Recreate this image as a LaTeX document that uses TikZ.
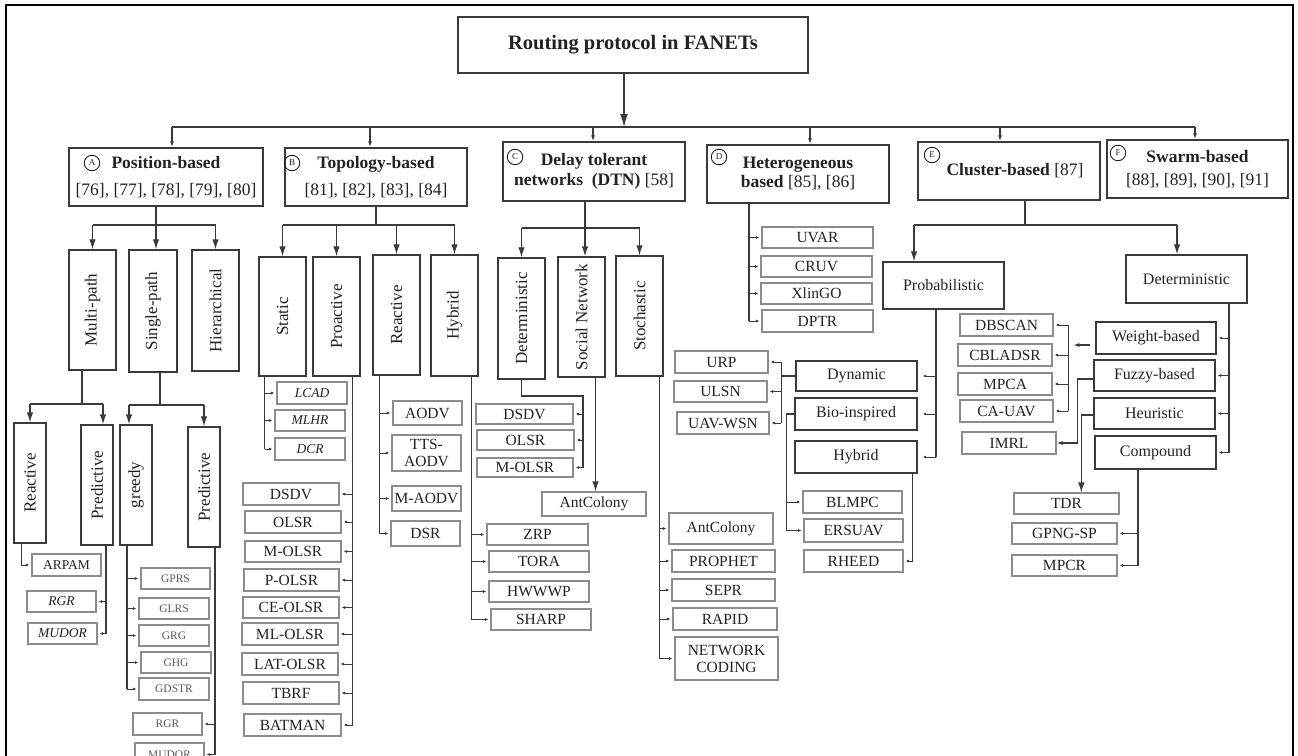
\documentclass[tikz,border=0pt]{standalone}
\usepackage{fontspec}
\setmainfont{Liberation Serif}
\usetikzlibrary{arrows.meta}
\definecolor{ink}{HTML}{222222}
\definecolor{edge}{HTML}{3A3A3A}
\definecolor{leafedge}{HTML}{8C8C8C}

% box from its corner coordinates: name, x1, y1, x2, y2, style, text
\newcommand\bx[7]{\node[#6, minimum width={(#4-#2)*1pt}, minimum height={(#5-#3)*1pt}] (#1) at ({(#2+#4)/2},{(#3+#5)/2}) {#7};}

\tikzset{
  box/.style={draw=edge, line width=1.5pt, inner sep=0pt, text=ink},
  cat/.style={box, font=\fontsize{17.5}{22}\selectfont, align=center},
  vbox/.style={box, line width=1.4pt, font=\fontsize{17}{20}\selectfont},
  mbox/.style={box, line width=1.4pt, font=\fontsize{16}{19}\selectfont},
  leaf/.style={draw=leafedge, line width=1.1pt, inner sep=0pt, text=ink, align=center, font=\fontsize{15.5}{17}\selectfont},
  sleaf/.style={leaf, font=\fontsize{13.5}{15}\selectfont},
  tleaf/.style={leaf, text=ink!75, font=\fontsize{11.5}{13}\selectfont},
  badge/.style={circle, draw=ink, line width=0.9pt, inner sep=0pt, minimum size=15.5pt, text=ink, font=\fontsize{9}{9}\selectfont},
  ln/.style={draw=edge, line width=1.2pt},
  big/.style={ln, -{Latex[length=13pt,width=8pt]}},
  med/.style={ln, -{Latex[length=10pt,width=6.5pt]}},
  sml/.style={ln, -{Latex[length=6pt,width=4pt]}},
  tny/.style={ln, line width=1pt, -{Latex[length=3.5pt,width=3pt]}, shorten >=2pt},
}

\begin{document}
\begin{tikzpicture}[x=1pt,y=-1pt]
\useasboundingbox (0,0) rectangle (1298,755);
\clip (0,0) rectangle (1298,755);
\draw[line width=2pt, black] (6,5) rectangle (1293,780);

% ---------- root and first level ----------
\bx{root}{458}{17}{808}{73}{box, line width=1.6pt, font=\fontsize{20.5}{24}\selectfont\bfseries}{Routing protocol in FANETs}
\coordinate (bus) at (624,127);
\draw[big] ([xshift=-9pt]root.south) -- (bus);
\coordinate (busL) at (172,127);
\coordinate (busR) at (1195,127);
\draw[ln] (busL) -- (busR);

\bx{A}{69}{148}{263}{206}{cat}{\textbf{Position-based}\\[5pt][76], [77], [78], [79], [80]}
\bx{B}{285}{148}{467}{206}{cat}{\textbf{Topology-based}\\[5pt][81], [82], [83], [84]}
\bx{C}{503}{142}{685}{201}{cat}{\textbf{Delay tolerant}\\[-2pt]\textbf{networks\enspace(DTN)} [58]}
\bx{D}{707}{145}{889}{203}{cat}{\textbf{Heterogeneous}\\[-3pt]\textbf{based} [85], [86]}
\bx{E}{918}{142}{1100}{200}{cat}{\hspace*{12pt}\textbf{Cluster-based} [87]}
\bx{F}{1107}{140}{1288}{198}{cat}{\textbf{Swarm-based}\\[1pt][88], [89], [90], [91]}

\node[badge] (bA) at (92,163) {A};
\node[badge] (bB) at (292,163) {B};
\node[badge] (bC) at (515,157) {C};
\node[badge] (bD) at (719,157) {D};
\node[badge] (bE) at (932,155) {E};
\node[badge] (bF) at (1118,153) {F};

\foreach \nm/\xx in {A/172,B/370,C/593,D/810,E/1000,F/1195}{
  \coordinate (d\nm) at (\xx,127);
  \draw[sml] (d\nm) -- (d\nm |- \nm.north);
}

% ---------- A: position-based ----------
\bx{MP}{69}{250}{116}{370}{vbox}{\rotatebox{90}{Multi-path}}
\bx{SP}{129}{250}{177}{372}{vbox}{\rotatebox{90}{Single-path}}
\bx{HI}{192}{250}{239}{371}{vbox}{\rotatebox{90}{Hierarchical}}
\coordinate (jA) at (156,225);
\draw[ln] (A.south -| jA) -- (jA);
\draw[ln] (MP.north |- jA) -- (HI.north |- jA);
\draw[med] (MP.north |- jA) -- (MP.north);
\draw[med] (jA) -- (jA |- SP.north);
\draw[med] (HI.north |- jA) -- (HI.north);

\bx{RE1}{14}{423}{46}{543}{vbox}{\rotatebox{90}{Reactive}}
\bx{PR1}{81}{425}{113}{545}{vbox}{\rotatebox{90}{Predictive}}
\bx{GR}{120}{425}{152}{545}{vbox}{\rotatebox{90}{greedy}}
\bx{PR2}{188}{427}{220}{547}{vbox}{\rotatebox{90}{Predictive}}

\coordinate (jMP) at (82,404);
\coordinate (tPR1) at ([xshift=6pt]PR1.north);
\draw[ln] (MP.south -| jMP) -- (jMP);
\draw[ln] (RE1.north |- jMP) -- (tPR1 |- jMP);
\draw[med] (RE1.north |- jMP) -- (RE1.north);
\draw[med] (tPR1 |- jMP) -- (tPR1);

\coordinate (jSP) at (160,405);
\coordinate (tGR) at ([xshift=-7pt]GR.north);
\draw[ln] (SP.south -| jSP) -- (jSP);
\draw[ln] (tGR |- jSP) -- (PR2.north |- jSP);
\draw[med] (tGR |- jSP) -- (tGR);
\draw[med] (PR2.north |- jSP) -- (PR2.north);

\bx{ARPAM}{32}{554}{101}{576}{sleaf}{ARPAM}
\bx{RGRa}{27}{591}{96}{612}{sleaf}{\itshape RGR}
\bx{MUDa}{28}{623}{97}{644}{sleaf}{\itshape MUDOR}
\draw[tny] ([xshift=-9pt]RE1.south) |- (ARPAM.west);
\coordinate (vPR1) at ([xshift=9pt]PR1.south);
\draw[ln] (vPR1) -- (vPR1 |- MUDa.east);
\foreach \nm in {RGRa,MUDa} \draw[tny] (vPR1 |- \nm.east) -- (\nm.east);

\bx{GPRS}{141}{568}{210}{589}{tleaf}{GPRS}
\bx{GLRS}{139}{598}{209}{619}{tleaf}{GLRS}
\bx{GRG}{139}{625}{209}{646}{tleaf}{GRG}
\bx{GHG}{141}{652}{211}{673}{tleaf}{GHG}
\bx{GDSTR}{139}{678}{209}{700}{tleaf}{GDSTR}
\coordinate (vGR) at ([xshift=-9pt]GR.south);
\draw[ln] (vGR) -- (vGR |- GDSTR.west);
\foreach \nm in {GPRS,GLRS,GRG,GHG,GDSTR} \draw[tny] (vGR |- \nm.west) -- (\nm.west);

\bx{RGRb}{133}{713}{202}{735}{tleaf}{RGR}
\bx{MUDb}{135}{743}{204}{766}{tleaf}{MUDOR}
\coordinate (vPR2) at ([xshift=11pt]PR2.south);
\draw[ln] (vPR2) -- (vPR2 |- MUDb.east);
\foreach \nm in {RGRb,MUDb} \draw[tny] (vPR2 |- \nm.east) -- (\nm.east);

% ---------- B: topology-based ----------
\bx{ST}{259}{257}{306}{376}{vbox}{\rotatebox{90}{Static}}
\bx{PA}{313}{257}{360}{376}{vbox}{\rotatebox{90}{Proactive}}
\bx{RB}{373}{255}{420}{375}{vbox}{\rotatebox{90}{Reactive}}
\bx{HB}{431}{255}{478}{376}{vbox}{\rotatebox{90}{Hybrid}}
\coordinate (jB) at (376,225);
\draw[ln] (B.south -| jB) -- (jB);
\draw[ln] (ST.north |- jB) -- (HB.north |- jB);
\foreach \nm in {ST,PA,RB,HB} \draw[med] (\nm.north |- jB) -- (\nm.north);

\bx{LCAD}{277}{382}{347}{404}{sleaf}{\itshape LCAD}
\bx{MLHR}{275}{410}{345}{431}{sleaf}{\itshape MLHR}
\bx{DCR}{275}{438}{345}{460}{sleaf}{\itshape DCR}
\coordinate (vST) at ([xshift=-18pt]ST.south);
\draw[ln] (vST) -- (vST |- DCR.west);
\foreach \nm in {LCAD,MLHR,DCR} \draw[tny] (vST |- \nm.west) -- (\nm.west);

\bx{DSDVb}{243}{483}{339}{505}{leaf}{DSDV}
\bx{OLSRb}{245}{511}{341}{533}{leaf}{OLSR}
\bx{MOLSRb}{245}{541}{341}{562}{leaf}{M-OLSR}
\bx{POLSR}{244}{569}{339}{591}{leaf}{P-OLSR}
\bx{CEOLSR}{243}{597}{339}{618}{leaf}{CE-OLSR}
\bx{MLOLSR}{242}{623}{338}{645}{leaf}{ML-OLSR}
\bx{LATOLSR}{242}{653}{338}{675}{leaf}{LAT-OLSR}
\bx{TBRF}{243}{682}{339}{704}{leaf}{TBRF}
\bx{BATMAN}{244}{714}{341}{736}{leaf}{BATMAN}
\coordinate (vPA) at ([xshift=16pt]PA.south);
\draw[ln] (vPA) -- (vPA |- BATMAN.east);
\foreach \nm in {DSDVb,OLSRb,MOLSRb,POLSR,CEOLSR,MLOLSR,LATOLSR,TBRF,BATMAN}
  \draw[tny] (vPA |- \nm.east) -- (\nm.east);

\bx{AODV}{393}{401}{462}{425}{leaf}{AODV}
\bx{TTS}{392}{435}{461}{471}{leaf}{TTS-\\AODV}
\bx{MAODV}{392}{486}{461}{511}{leaf}{M-AODV}
\bx{DSR}{391}{521}{460}{546}{leaf}{DSR}
\coordinate (vRB) at ([xshift=-17pt]RB.south);
\draw[ln] (vRB) -- (vRB |- DSR.west);
\foreach \nm in {AODV,TTS,MAODV,DSR} \draw[tny] (vRB |- \nm.west) -- (\nm.west);

\bx{ZRP}{487}{524}{588}{545}{leaf}{ZRP}
\bx{TORA}{489}{551}{589}{572}{leaf}{TORA}
\bx{HWWWP}{489}{581}{589}{602}{leaf}{HWWWP}
\bx{SHARP}{491}{609}{591}{630}{leaf}{SHARP}
\coordinate (vHB) at ([xshift=17pt]HB.south);
\draw[ln] (vHB) -- (vHB |- SHARP.west);
\foreach \nm in {ZRP,TORA,HWWWP,SHARP} \draw[tny] (vHB |- \nm.west) -- (\nm.west);

% ---------- C: delay tolerant networks ----------
\bx{DE}{498}{258}{545}{379}{vbox}{\rotatebox{90}{Deterministic}}
\bx{SN}{558}{257}{605}{377}{vbox}{\rotatebox{90}{Social Network}}
\bx{SC}{616}{256}{663}{376}{vbox}{\rotatebox{90}{Stochastic}}
\coordinate (jC) at (585,228);
\draw[ln] (C.south -| jC) -- (jC);
\draw[ln] (DE.north |- jC) -- (SC.north |- jC);
\draw[med] (DE.north |- jC) -- (DE.north);
\draw[med] (jC) -- (jC |- SN.north);
\draw[med] (SC.north |- jC) -- (SC.north);

\bx{DSDVc}{476}{404}{573}{424}{leaf}{DSDV}
\bx{OLSRc}{477}{430}{574}{450}{leaf}{OLSR}
\bx{MOLSRc}{477}{458}{573}{477}{leaf}{M-OLSR}
\coordinate (kDE) at (583,396);
\draw[ln] (DE.south) |- (kDE) -- (kDE |- MOLSRc.east);
\foreach \nm in {DSDVc,OLSRc,MOLSRc} \draw[tny] (kDE |- \nm.east) -- (\nm.east);

\bx{ANTa}{542}{492}{646}{516}{leaf}{AntColony}
\coordinate (vSN) at ([xshift=14pt]SN.south);
\draw[med] (vSN) -- (vSN |- ANTa.north);

\bx{ANTb}{669}{513}{773}{544}{leaf}{AntColony}
\bx{PROPHET}{672}{550}{775}{572}{leaf}{PROPHET}
\bx{SEPR}{672}{579}{775}{601}{leaf}{SEPR}
\bx{RAPID}{673}{608}{777}{630}{leaf}{RAPID}
\bx{NC}{675}{637}{778}{680}{leaf}{NETWORK\\CODING}
\coordinate (vSC) at ([xshift=20pt]SC.south);
\draw[ln] (vSC) -- (vSC |- NC.west);
\foreach \nm in {ANTb,PROPHET,SEPR,RAPID} \draw[tny] (vSC |- \nm.west) -- (\nm.west);
\draw[tny] (vSC |- NC.west) -- (NC.west);

% ---------- D: heterogeneous ----------
\bx{UVAR}{762}{227}{873}{248}{leaf}{UVAR}
\bx{CRUV}{761}{256}{872}{277}{leaf}{CRUV}
\bx{XlinGO}{761}{283}{872}{304}{leaf}{XlinGO}
\bx{DPTR}{762}{310}{873}{332}{leaf}{DPTR}
\coordinate (vD) at ([xshift=-49pt]D.south);
\draw[ln] (vD) -- (vD |- DPTR.west);
\foreach \nm in {UVAR,CRUV,XlinGO,DPTR} \draw[tny] (vD |- \nm.west) -- (\nm.west);

% ---------- E: cluster-based ----------
\bx{PB}{883}{262}{1004}{309}{mbox}{Probabilistic}
\bx{DT}{1126}{255}{1247}{303}{mbox}{Deterministic}
\coordinate (jE) at (1025,225);
\coordinate (tPB) at ([xshift=-29.5pt]PB.north);
\coordinate (tDT) at ([xshift=-9.5pt]DT.north);
\draw[ln] (E.south -| jE) -- (jE);
\draw[ln] (tPB |- jE) -- (tDT |- jE);
\draw[med] (tPB |- jE) -- (tPB);
\draw[med] (tDT |- jE) -- (tDT);

\bx{DY}{796}{361}{917}{391}{mbox}{Dynamic}
\bx{BI}{795}{398}{917}{430}{mbox}{Bio-inspired}
\bx{HY}{795}{441}{917}{473}{mbox}{Hybrid}
\coordinate (vPB) at ([xshift=-7.5pt]PB.south);
\draw[ln] (vPB) -- (vPB |- HY.east);
\foreach \nm in {DY,BI,HY} \draw[tny, shorten >=5pt] (vPB |- \nm.east) -- (\nm.east);

\bx{URP}{675}{351}{768}{373}{leaf}{URP}
\bx{ULSN}{674}{381}{767}{402}{leaf}{ULSN}
\bx{UAVWSN}{677}{412}{769}{434}{leaf}{UAV-WSN}
\coordinate (kDY) at ([xshift=-14pt]DY.west);
\draw[ln] (DY.west) -- (kDY);
\draw[ln] (kDY |- URP.east) -- (kDY |- UAVWSN.east);
\foreach \nm in {URP,ULSN,UAVWSN} \draw[tny] (kDY |- \nm.east) -- (\nm.east);

\bx{BLMPC}{803}{491}{902}{513}{leaf}{BLMPC}
\bx{ERSUAV}{804}{519}{903}{542}{leaf}{ERSUAV}
\coordinate (kBI) at ([xshift=-8pt]BI.west);
\draw[ln] (BI.west) -- (kBI) -- (kBI |- ERSUAV.west);
\foreach \nm in {BLMPC,ERSUAV} \draw[tny] (kBI |- \nm.west) -- (\nm.west);

\bx{RHEED}{804}{550}{903}{572}{leaf}{RHEED}
\coordinate (vHY) at ([xshift=56pt]HY.south);
\draw[tny] (vHY) |- (RHEED.east);

\bx{WB}{1096}{322}{1216}{354}{mbox}{Weight-based}
\bx{FB}{1094}{360}{1215}{391}{mbox}{Fuzzy-based}
\bx{HE}{1094}{398}{1215}{429}{mbox}{Heuristic}
\bx{CO}{1095}{436}{1216}{469}{mbox}{Compound}
\coordinate (vDT) at ([xshift=42.5pt]DT.south);
\draw[ln] (vDT) -- (vDT |- CO.east);
\foreach \nm in {WB,FB,HE,CO} \draw[tny] (vDT |- \nm.east) -- (\nm.east);

\bx{DBSCAN}{960}{314}{1053}{336}{leaf}{DBSCAN}
\bx{CBLADSR}{958}{344}{1052}{366}{leaf}{CBLADSR}
\bx{MPCA}{958}{373}{1052}{395}{leaf}{MPCA}
\bx{CAUAV}{960}{400}{1053}{422}{leaf}{CA-UAV}
\coordinate (kWB) at ([xshift=-27pt]WB.west);
\draw[sml] ([xshift=-5pt,yshift=-7pt]WB.west) -- ([xshift=-22pt,yshift=-7pt]WB.west);
\draw[ln] (kWB |- DBSCAN.east) -- (kWB |- CAUAV.east);
\foreach \nm in {DBSCAN,CBLADSR,MPCA,CAUAV} \draw[tny] (kWB |- \nm.east) -- (\nm.east);

\bx{IMRL}{962}{432}{1056}{454}{leaf}{IMRL}
\coordinate (kFB) at ([xshift=-16pt,yshift=-3.5pt]FB.west);
\draw[sml] ([yshift=-3.5pt]FB.west) -- (kFB) |- (IMRL.east);

\bx{TDR}{1014}{493}{1119}{514}{leaf}{TDR}
\coordinate (kHE) at ([xshift=-12pt,yshift=-1.5pt]HE.west);
\draw[med] ([yshift=-1.5pt]HE.west) -- (kHE) -- (kHE |- TDR.north);

\bx{GPNGSP}{1012}{523}{1117}{544}{leaf}{GPNG-SP}
\bx{MPCR}{1012}{555}{1117}{576}{leaf}{MPCR}
\coordinate (vCO) at ([xshift=-17.5pt]CO.south);
\draw[ln] (vCO) -- (vCO |- MPCR.east);
\foreach \nm in {GPNGSP,MPCR} \draw[tny] (vCO |- \nm.east) -- (\nm.east);
\end{tikzpicture}
\end{document}
